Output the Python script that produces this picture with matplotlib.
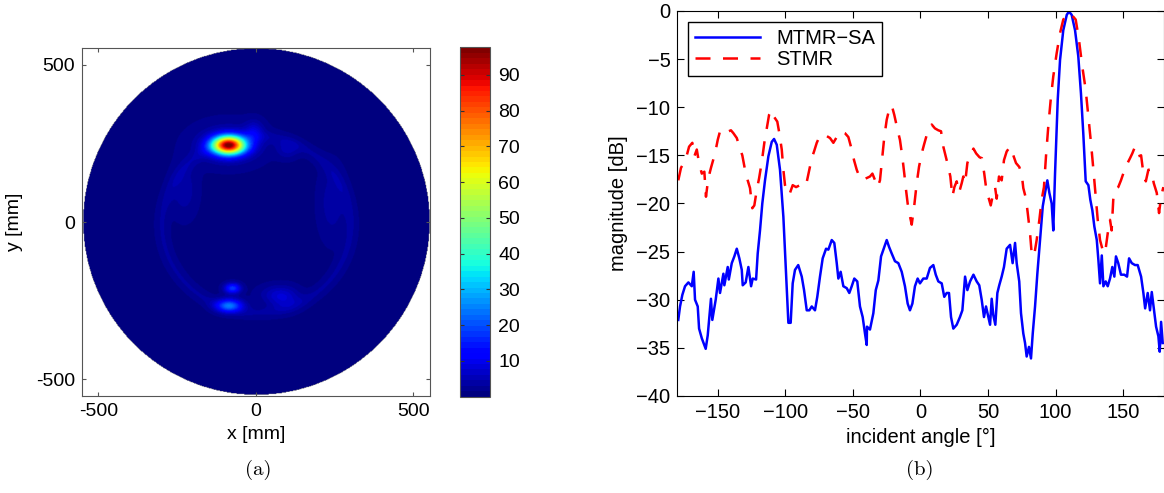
import numpy as np
import matplotlib
matplotlib.use("Agg")
import matplotlib.pyplot as plt

plt.rcParams["font.family"] = ["Liberation Sans", "DejaVu Sans"]
plt.rcParams["font.size"] = 14

# ---- (a) image: bright spots inside the circular aperture ----
aperture_radius = 550
blob_x = [-88, -90, -86, -76, -8, 99, 88, -230, 240, 60]
blob_y = [242, 245, -267, -212, 283, 229, -245, 100, 60, -230]
blob_amp = [92, 5, 22, 17, 6, 4, 5, 3, 3, 3]
blob_sx = [36, 75, 28, 17, 20, 25, 35, 30, 30, 40]
blob_sy = [20, 45, 14, 11, 25, 20, 25, 60, 80, 20]
ring_rx, ring_ry, ring_amp, ring_width = 300, 280, 2.2, 14
background_level = 1.0

# ---- (b) angular spectrum ----
mtmr_deg = [-179.3, -178, -176.3, -174.3, -171.8, -169.3, -167.9, -166.9, -164.9, -163.9,
            -161.9, -159, -157.5, -155.1, -154.1, -151.6, -149.6, -148.4, -145.9, -145.2,
            -142.7, -141.9, -139.7, -137.8, -136.0, -134.1, -132.3, -131.6, -129.4, -127.4,
            -125.4, -124.2, -121.7, -120.5, -118.8, -117.1, -115.1, -112.6, -110.1, -108.4,
            -106.4, -104, -101.5, -99.5, -97.8, -96.1, -94.6, -92.9, -90.5, -87.9,
            -86.2, -84.2, -82.3, -80.5, -78.1, -76.4, -74.4, -72.4, -69.9, -68.2,
            -65.7, -63.8, -62.0, -60.8, -59.1, -57.1, -54.6, -52.7, -50.9, -49.0,
            -46.8, -44.8, -42.8, -41.1, -39.8, -39.6, -37.4, -34.9, -33.1, -31.2,
            -29.2, -27.5, -25.0, -23.3, -21.3, -18.9, -16.4, -13.9, -11.5, -9.5,
            -7.8, -6.0, -4.1, -2.1, -0.4, 2.1, 4.6, 7.0, 9.5, 11.3,
            13.2, 15.7, 17.6, 19.4, 21.1, 22.6, 24.3, 26.8, 29.2, 31.0,
            33.0, 34.7, 36.7, 39.2, 41.6, 43.5, 45.3, 47.0, 48.5, 50.2,
            51.5, 52.7, 53.9, 55.4, 56.9, 58.3, 60.1, 61.8, 63.8, 66.3,
            68.2, 70.0, 71.2, 73.1, 74.4, 76.1, 77.4, 78.6, 80.3, 81.8,
            83.1, 84.8, 86.5, 88.5, 90.5, 92.2, 93.9, 95.4, 97.1, 98.3,
            99.6, 101.6, 103.3, 105.7, 108.3, 109.9, 111.9, 114.4, 116.8, 118.8,
            120.5, 122.3, 124.3, 125.7, 127.2, 128.7, 130.5, 131.7, 132.9, 134.2,
            135.4, 137.1, 138.6, 140.3, 142.0, 143.5, 144.7, 146.4, 148.4, 150.9,
            152.9, 154.4, 156.4, 158.8, 160.8, 163.3, 165.0, 166.3, 168.2, 169.9,
            171.2, 173.1, 174.4, 176.1, 177.1, 178.1, 179.3]
mtmr_db = [-32.1, -30.7, -29.5, -28.6, -28.2, -28.6, -27.1, -30.0, -30.7, -33.0,
           -34.0, -35.1, -33.7, -29.9, -32.1, -30.0, -27.8, -29.3, -27.3, -28.5,
           -26.6, -27.9, -26.2, -25.5, -24.7, -25.7, -26.9, -28.5, -28.2, -26.6,
           -28.6, -27.8, -27.9, -25.2, -22.8, -20.0, -17.6, -15.1, -13.6, -13.3,
           -13.9, -16.5, -21.4, -27.3, -32.4, -32.4, -28.3, -26.9, -26.4, -27.6,
           -29.0, -31.1, -31.1, -30.7, -31.1, -29.7, -27.6, -25.7, -24.7, -24.8,
           -23.8, -24.1, -26.2, -27.8, -27.1, -28.6, -28.8, -29.3, -28.6, -27.8,
           -28.1, -30.7, -31.8, -33.5, -34.7, -32.8, -33.1, -31.4, -29.0, -28.0,
           -25.5, -24.8, -23.8, -24.5, -25.2, -26.0, -26.2, -27.1, -28.6, -30.4,
           -31.1, -30.4, -28.6, -27.8, -28.3, -27.8, -27.8, -26.7, -26.4, -27.4,
           -28.1, -28.3, -29.7, -29.3, -29.3, -31.8, -33.0, -32.6, -31.8, -31.1,
           -27.6, -29.0, -28.1, -27.4, -28.1, -28.5, -30.0, -31.8, -30.7, -31.8,
           -32.6, -29.9, -31.6, -32.6, -29.3, -28.5, -27.6, -26.6, -24.7, -24.3,
           -26.2, -24.1, -26.2, -28.1, -31.4, -33.5, -34.5, -35.9, -34.9, -36.1,
           -33.5, -30.7, -27.3, -23.8, -20.3, -18.9, -17.6, -18.9, -20.0, -22.8,
           -16.9, -9.2, -5.1, -2.0, -0.4, -0.07, -0.4, -2.0, -4.7, -8.6,
           -12.7, -17.7, -18.1, -19.6, -20.7, -22.4, -23.8, -25.9, -28.3, -25.4,
           -28.6, -28.1, -28.6, -27.8, -26.6, -27.6, -25.5, -26.2, -27.4, -27.4,
           -27.6, -25.7, -26.2, -26.4, -26.4, -27.6, -29.3, -30.9, -29.3, -31.1,
           -29.2, -31.3, -32.8, -33.8, -35.4, -32.3, -34.5]

stmr_deg = [-179.3, -177.3, -176.1, -173.0, -171.3, -168.9, -167.4, -165.6, -163.9, -161.9,
            -160.0, -158.8, -157.1, -155.1, -152.1, -150.1, -148.4, -145.9, -143.4, -142.0,
            -140.3, -138.5, -136.0, -133.6, -131.9, -129.9, -127.9, -126.2, -124.5, -123.0,
            -121.2, -119.5, -117.5, -115.6, -113.8, -112.1, -110.1, -108.4, -106.0, -104.5,
            -102.7, -101.5, -100.3, -98.6, -97.1, -94.6, -92.1, -89.2, -86.7, -84.7,
            -82.3, -80.5, -78.8, -76.8, -74.9, -72.4, -69.4, -67.0, -64.5, -62.0,
            -59.1, -55.9, -53.4, -50.9, -49.2, -47.2, -45.3, -42.8, -40.4, -37.4,
            -35.6, -33.6, -31.7, -30.0, -28.2, -26.8, -25.0, -23.3, -21.3, -19.4,
            -17.2, -15.2, -13.5, -12.0, -10.7, -9.5, -8.3, -6.5, -4.6, -2.8,
            -1.1, 0.9, 2.6, 4.6, 6.3, 8.3, 10.7, 13.2, 15.2, 16.9,
            18.7, 20.6, 22.1, 23.6, 25.1, 26.8, 28.5, 30.5, 31.7, 33.0,
            34.7, 36.7, 39.2, 41.2, 43.7, 45.5, 47.2, 48.5, 50.2, 52.0,
            53.9, 55.2, 56.4, 58.1, 60.1, 61.8, 63.8, 66.3, 68.2, 70.7,
            73.1, 74.9, 76.1, 78.1, 79.4, 81.1, 82.3, 84.0, 86.0, 88.0,
            89.7, 91.4, 92.9, 94.6, 96.4, 98.3, 100.8, 103.3, 105.7, 109.0,
            111.9, 114.9, 117.3, 119.8, 122.3, 124.3, 126.2, 128.0, 129.7, 131.2,
            132.9, 134.6, 136.6, 138.6, 140.3, 141.5, 142.7, 143.9, 146.4, 148.4,
            150.1, 151.9, 153.3, 155.1, 156.8, 158.8, 161.3, 163.3, 165.0, 166.8,
            168.7, 170.7, 172.7, 174.9, 176.6, 178.1, 179.8]
stmr_db = [-17.6, -16.3, -16.0, -15.0, -14.1, -13.7, -15.1, -14.4, -15.8, -16.9,
           -16.7, -19.3, -17.4, -16.3, -14.8, -13.4, -12.5, -12.4, -12.2, -12.5,
           -12.4, -12.7, -13.2, -14.3, -15.0, -16.5, -17.6, -18.4, -20.5, -20.2,
           -18.6, -17.4, -15.7, -13.7, -12.2, -10.8, -10.3, -11.0, -11.5, -12.7,
           -14.4, -16.5, -18.1, -18.9, -19.1, -18.1, -18.3, -18.1, -18.3, -18.1,
           -16.5, -15.3, -14.6, -13.7, -13.1, -12.8, -13.0, -13.2, -13.7, -13.1,
           -12.5, -12.7, -13.1, -14.4, -15.5, -16.5, -17.2, -17.6, -17.4, -17.2,
           -16.9, -17.6, -18.3, -17.6, -15.1, -13.1, -11.3, -10.3, -9.8, -10.8,
           -12.2, -13.4, -15.1, -16.9, -18.6, -20.0, -21.0, -22.2, -20.2, -17.9,
           -16.2, -14.8, -13.9, -12.9, -12.2, -11.8, -12.2, -12.4, -12.5, -14.1,
           -15.1, -16.2, -17.2, -19.3, -18.3, -17.7, -18.9, -17.9, -17.2, -17.9,
           -15.8, -15.0, -14.3, -14.8, -15.2, -15.3, -16.9, -18.3, -19.3, -20.2,
           -18.9, -18.3, -19.5, -17.2, -17.6, -15.5, -14.6, -14.1, -14.8, -15.8,
           -16.2, -16.9, -18.4, -19.5, -21.0, -23.1, -25.2, -25.5, -23.8, -21.7,
           -19.6, -18.3, -15.1, -12.0, -9.2, -6.8, -4.4, -2.3, -0.9, -0.2,
           -0.4, -0.9, -3.0, -5.8, -8.2, -11.0, -13.7, -16.5, -19.3, -21.7,
           -23.8, -24.7, -25.2, -23.1, -21.7, -22.8, -19.6, -18.6, -18.3, -17.6,
           -16.9, -16.5, -15.8, -15.3, -14.8, -14.1, -15.1, -15.0, -16.9, -17.7,
           -16.5, -16.5, -17.9, -18.9, -21.0, -19.3, -18.3]

fig = plt.figure(figsize=(11.64, 4.93), dpi=100)

# ---- left panel ----
ax1 = fig.add_axes([0.0702, 0.1953, 0.2992, 0.7087])
lim = 553
g = np.linspace(-lim, lim, 501)
X, Y = np.meshgrid(g, g)
Z = np.full_like(X, background_level)
for bx, by, ba, sx, sy in zip(blob_x, blob_y, blob_amp, blob_sx, blob_sy):
    Z += ba * np.exp(-0.5 * (((X - bx) / sx) ** 2 + ((Y - by) / sy) ** 2))
rr = np.sqrt((X / ring_rx) ** 2 + ((Y + 10) / ring_ry) ** 2) * ring_ry
Z += ring_amp * np.exp(-0.5 * ((rr - ring_ry) / ring_width) ** 2)
Z[np.hypot(X, Y) > aperture_radius] = np.nan

cmap = plt.get_cmap("jet", 64)
im = ax1.imshow(Z, origin="lower", extent=[-lim, lim, -lim, lim], cmap=cmap,
                vmin=0, vmax=97.7, interpolation="bilinear")
ax1.set_xlim(-lim, lim)
ax1.set_ylim(-lim, lim)
ax1.set_xticks([-500, 0, 500])
ax1.set_xticklabels(["-500", "0", "500"])
ax1.set_yticks([-500, 0, 500])
ax1.set_yticklabels(["-500", "0", "500"])
ax1.set_xlabel("x [mm]", labelpad=4)
ax1.set_ylabel("y [mm]", labelpad=9)
ax1.tick_params(direction="in", length=3, pad=5, top=True, right=True,
                color="#555555")
for s in ax1.spines.values():
    s.set_color("#555555")

cax = fig.add_axes([0.3952, 0.1953, 0.0258, 0.7087])
cb = fig.colorbar(im, cax=cax, ticks=range(10, 100, 10))
cb.ax.tick_params(direction="in", length=3, pad=6, left=True, right=True,
                  color="#333333")
cb.outline.set_edgecolor("#555555")

# ---- right panel ----
fs_b = 14.5
ax2 = fig.add_axes([0.5819, 0.1968, 0.4178, 0.781])
ax2.plot(mtmr_deg, mtmr_db, color="#0000ff", lw=1.8, label="MTMR\u2212SA")
ax2.plot(stmr_deg, stmr_db, color="#ff0000", lw=1.8, dashes=(6, 5),
         label="STMR")
ax2.set_xlim(-180, 180)
ax2.set_ylim(-40, 0)
ax2.set_xticks([-150, -100, -50, 0, 50, 100, 150])
ax2.set_yticks(range(-40, 1, 5))
ax2.set_xlabel("incident angle [\u00b0]", fontsize=fs_b, labelpad=4)
ax2.set_ylabel("magnitude [dB]", fontsize=fs_b, labelpad=6)
ax2.tick_params(direction="in", length=5, pad=5, top=True, right=True,
                labelsize=fs_b)
leg = ax2.legend(loc="upper left", handlelength=3.2, fancybox=False,
                 edgecolor="black", framealpha=1, borderaxespad=0.55,
                 labelspacing=0.1, borderpad=0.35, fontsize=fs_b)
leg.get_frame().set_linewidth(1.0)

fig.text(0.2216, 0.046, "(a)", fontfamily="cmr10", fontsize=15,
         ha="center", va="center")
fig.text(0.7904, 0.046, "(b)", fontfamily="cmr10", fontsize=15,
         ha="center", va="center")

fig.savefig("out.png", dpi=100)
